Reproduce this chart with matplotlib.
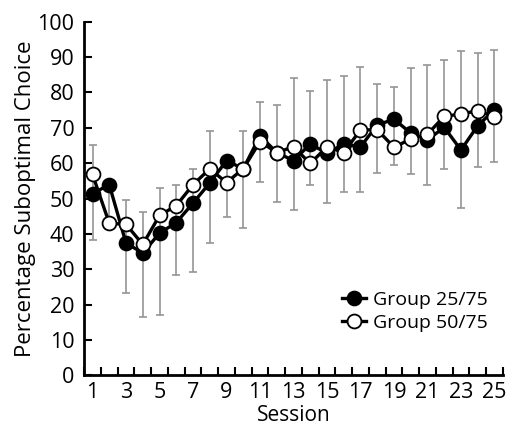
import numpy as np
import matplotlib
matplotlib.use('Agg')
import matplotlib.pyplot as plt

# Session numbers
sessions = list(range(1, 26))

# Mean percentage suboptimal choice per group
group_25_75 = [51.4, 53.9, 37.4, 34.6, 40.2, 43.2, 48.7, 54.4, 60.7, 58.4,
               67.7, 63.0, 60.7, 65.4, 62.8, 65.4, 64.6, 70.8, 72.4, 68.5,
               66.6, 70.1, 63.7, 70.6, 75.0]
group_50_75 = [56.8, 43.0, 42.7, 37.0, 45.2, 48.0, 53.9, 58.4, 54.5, 58.4,
               66.1, 63.0, 64.6, 59.9, 64.6, 63.0, 69.4, 69.4, 64.5, 66.8,
               68.2, 73.2, 73.9, 74.8, 73.1]

# Error bar ends (upper and lower whisker values)
err_top = [65.1, 54.5, 49.7, 46.1, 52.9, 53.7, 58.2, 69.0, 62.0, 69.0,
           77.2, 76.3, 84.0, 80.3, 83.5, 84.5, 87.2, 82.5, 81.6, 87.0,
           87.6, 89.2, 91.7, 91.0, 92.1]
err_bottom = [38.2, 43.5, 23.2, 16.4, 17.0, 28.3, 29.2, 37.4, 44.9, 41.7,
              54.8, 48.9, 46.8, 53.9, 48.7, 51.8, 51.7, 57.3, 59.5, 56.9,
              53.9, 58.2, 47.2, 58.8, 60.3]

plt.rcParams['font.family'] = ['Open Sans', 'DejaVu Sans']

fig = plt.figure(figsize=(5.1, 4.32), dpi=100)
ax = fig.add_axes([0.165, 0.131, 0.821, 0.819])

x = np.array(sessions)
black = np.array(group_25_75)
lower = black - np.array(err_bottom)
upper = np.array(err_top) - black

# Grey error bars behind everything
ax.errorbar(x, black, yerr=[lower, upper], fmt='none', ecolor='#959595',
            elinewidth=1.2, capsize=3, capthick=1.2, zorder=1)

ax.plot(x, group_25_75, color='black', linewidth=2.4, marker='o',
        markersize=10, markerfacecolor='black', markeredgecolor='black',
        markeredgewidth=1.3, label='Group 25/75', zorder=3)
ax.plot(x, group_50_75, color='black', linewidth=2.4, marker='o',
        markersize=10, markerfacecolor='white', markeredgecolor='black',
        markeredgewidth=1.3, label='Group 50/75', zorder=4)

ax.set_xlim(0.5, 25.5)
ax.set_ylim(0, 100)

# Tick marks between sessions, labels on odd sessions
ax.set_xticks(np.arange(0.5, 26, 1))
ax.set_xticklabels([])
ax.set_xticks(range(1, 26, 2), minor=True)
ax.set_xticklabels([str(s) for s in range(1, 26, 2)], minor=True, fontsize=15.5)
ax.tick_params(axis='x', which='major', direction='in', length=6, width=1.5)
ax.tick_params(axis='x', which='minor', length=0, pad=5)

ax.set_yticks(range(0, 101, 10))
ax.tick_params(axis='y', direction='in', length=6, width=1.5, labelsize=15.5, pad=7)

for side in ['top', 'right']:
    ax.spines[side].set_visible(False)
for side in ['left', 'bottom']:
    ax.spines[side].set_linewidth(2)

ax.set_xlabel('Session', fontsize=15, labelpad=1)
ax.set_ylabel('Percentage Suboptimal Choice', fontsize=16, labelpad=1)

ax.legend(loc='center', bbox_to_anchor=(0.79, 0.18), frameon=False,
          fontsize=14, handlelength=1.2, handletextpad=0.35, labelspacing=0.25,
          markerscale=1.0)

fig.savefig('out.png', dpi=100)
